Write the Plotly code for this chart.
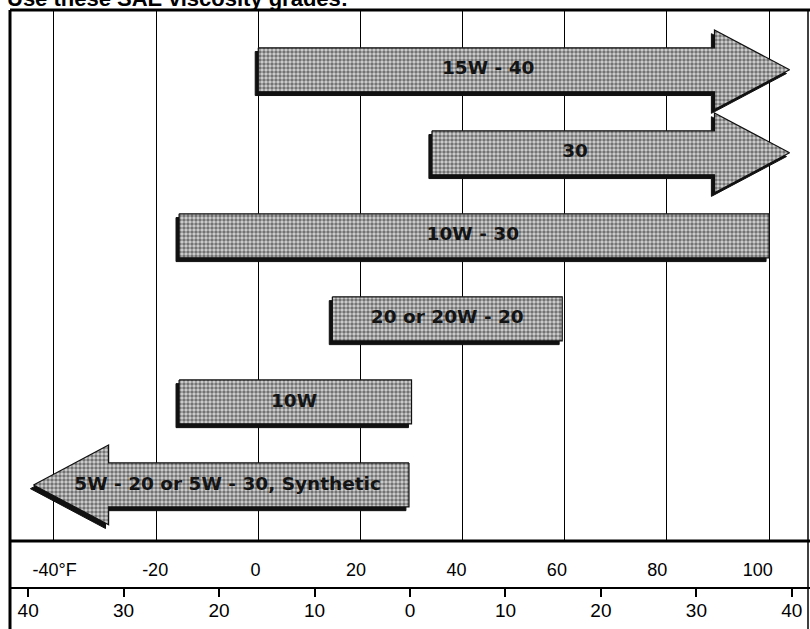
import plotly.graph_objects as go

# SAE grades, temperature span in deg F, and which way the band keeps going
grades = ["15W - 40", "30", "10W - 30", "20 or 20W - 20", "10W",
          "5W - 20 or 5W - 30, Synthetic"]
low_f = [0, 34, -15.5, 14.5, -15.5, -44]
high_f = [104, 104, 100, 59.5, 30, 29.5]
pointing = ["right", "right", "", "", "", "left"]
label_f = [45, 62, 42, 37, 7, -6]

f_ticks = [-40, -20, 0, 20, 40, 60, 80, 100]
f_labels = ["-40°F", "-20", "0", "20", "40", "60", "80", "100"]
c_ticks = [-40, -30, -20, -10, 0, 10, 20, 30, 40]
c_labels = ["40", "30", "20", "10", "0", "10", "20", "30", "40"]

HEAD = 14.7   # arrow head length in deg F
BODY = 0.265  # half height of the band (rows)
WING = 0.48   # half height of the arrow head


def outline(lo, hi, r, kind):
    if kind == "right":
        b = hi - HEAD
        xs = [lo, b, b, hi, b, b, lo, lo]
        ys = [r - BODY, r - BODY, r - WING, r, r + WING, r + BODY, r + BODY, r - BODY]
    elif kind == "left":
        b = lo + HEAD
        xs = [hi, b, b, lo, b, b, hi, hi]
        ys = [r - BODY, r - BODY, r - WING, r, r + WING, r + BODY, r + BODY, r - BODY]
    else:
        xs = [lo, hi, hi, lo, lo]
        ys = [r - BODY, r - BODY, r + BODY, r + BODY, r - BODY]
    return xs, ys


fig = go.Figure()

for i, name in enumerate(grades):
    xs, ys = outline(low_f[i], high_f[i], i, pointing[i])
    # drop shadow
    fig.add_trace(go.Scatter(x=[v - 0.6 for v in xs], y=[v + 0.045 for v in ys],
                             fill="toself", fillcolor="#111111", mode="lines",
                             line=dict(color="#111111", width=1), hoverinfo="skip"))
    fig.add_trace(go.Scatter(x=xs, y=ys, fill="toself", mode="lines",
                             line=dict(color="#111111", width=1.2),
                             fillpattern=dict(shape=".", fgcolor="#111111", bgcolor="#d4d4d4",
                                              size=4, solidity=0.6),
                             hoverinfo="skip"))
    fig.add_trace(go.Scatter(x=[label_f[i]], y=[i], mode="text", text=["<b>" + name + "</b>"],
                             textfont=dict(family="DejaVu Sans", size=18.5, color="#141414"),
                             hoverinfo="skip"))

# invisible points so the label axes exist
fig.add_trace(go.Scatter(x=[f_ticks[0]], y=[0], xaxis="x2", mode="markers",
                         marker=dict(opacity=0), hoverinfo="skip"))
fig.add_trace(go.Scatter(x=[c_ticks[0]], y=[0.5], xaxis="x3", yaxis="y3", mode="markers",
                         marker=dict(opacity=0), hoverinfo="skip"))

fig.update_layout(
    width=810, height=629,
    margin=dict(l=10, r=0, t=10, b=0),
    paper_bgcolor="white", plot_bgcolor="white",
    showlegend=False,
    xaxis=dict(range=[-48.6, 108], tick0=-40, dtick=20, showgrid=True,
               gridcolor="black", gridwidth=1.3, zeroline=False,
               showticklabels=False, showline=False),
    xaxis2=dict(range=[-48.9, 110.4], overlaying="x", anchor="y", side="bottom",
                tickvals=f_ticks, ticktext=f_labels, showgrid=False, zeroline=False,
                ticks="", ticklabelstandoff=16,
                tickfont=dict(family="Liberation Sans", size=18, color="black")),
    yaxis=dict(domain=[0.1422, 1], range=[5.675, -0.72], visible=False),
    xaxis3=dict(range=[-41.9, 41.9], anchor="y3", tickvals=c_ticks, ticktext=c_labels,
                ticks="outside", ticklen=8, tickwidth=1.5, tickcolor="black",
                showline=True, linecolor="black", linewidth=2,
                showgrid=False, zeroline=False, ticklabelstandoff=-3,
                tickfont=dict(family="Liberation Sans", size=19, color="black")),
    yaxis3=dict(domain=[0.0679, 0.1422], range=[0, 1], visible=False),
)

# frame
line = dict(color="black", width=3)
fig.add_shape(type="line", xref="paper", yref="paper", x0=0, x1=0, y0=0, y1=1, line=line)
fig.add_shape(type="line", xref="paper", yref="paper", x0=0, x1=1, y0=1, y1=1, line=line)
fig.add_shape(type="line", xref="paper", yref="paper", x0=0, x1=1, y0=0.1422, y1=0.1422, line=line)
fig.add_shape(type="line", xref="paper", yref="paper", x0=0.9975, x1=0.9975, y0=0, y1=1,
              line=dict(color="black", width=1.5))

fig.add_annotation(text="<b>Use these SAE viscosity grades:</b>", xref="paper", yref="paper",
                   x=-0.00625, y=1, xanchor="left", yanchor="bottom", yshift=-3,
                   showarrow=False,
                   font=dict(family="Liberation Sans", size=22, color="black"))

fig.write_html("out.html", config={"displayModeBar": False},
               post_script="document.body.style.margin='0';")
